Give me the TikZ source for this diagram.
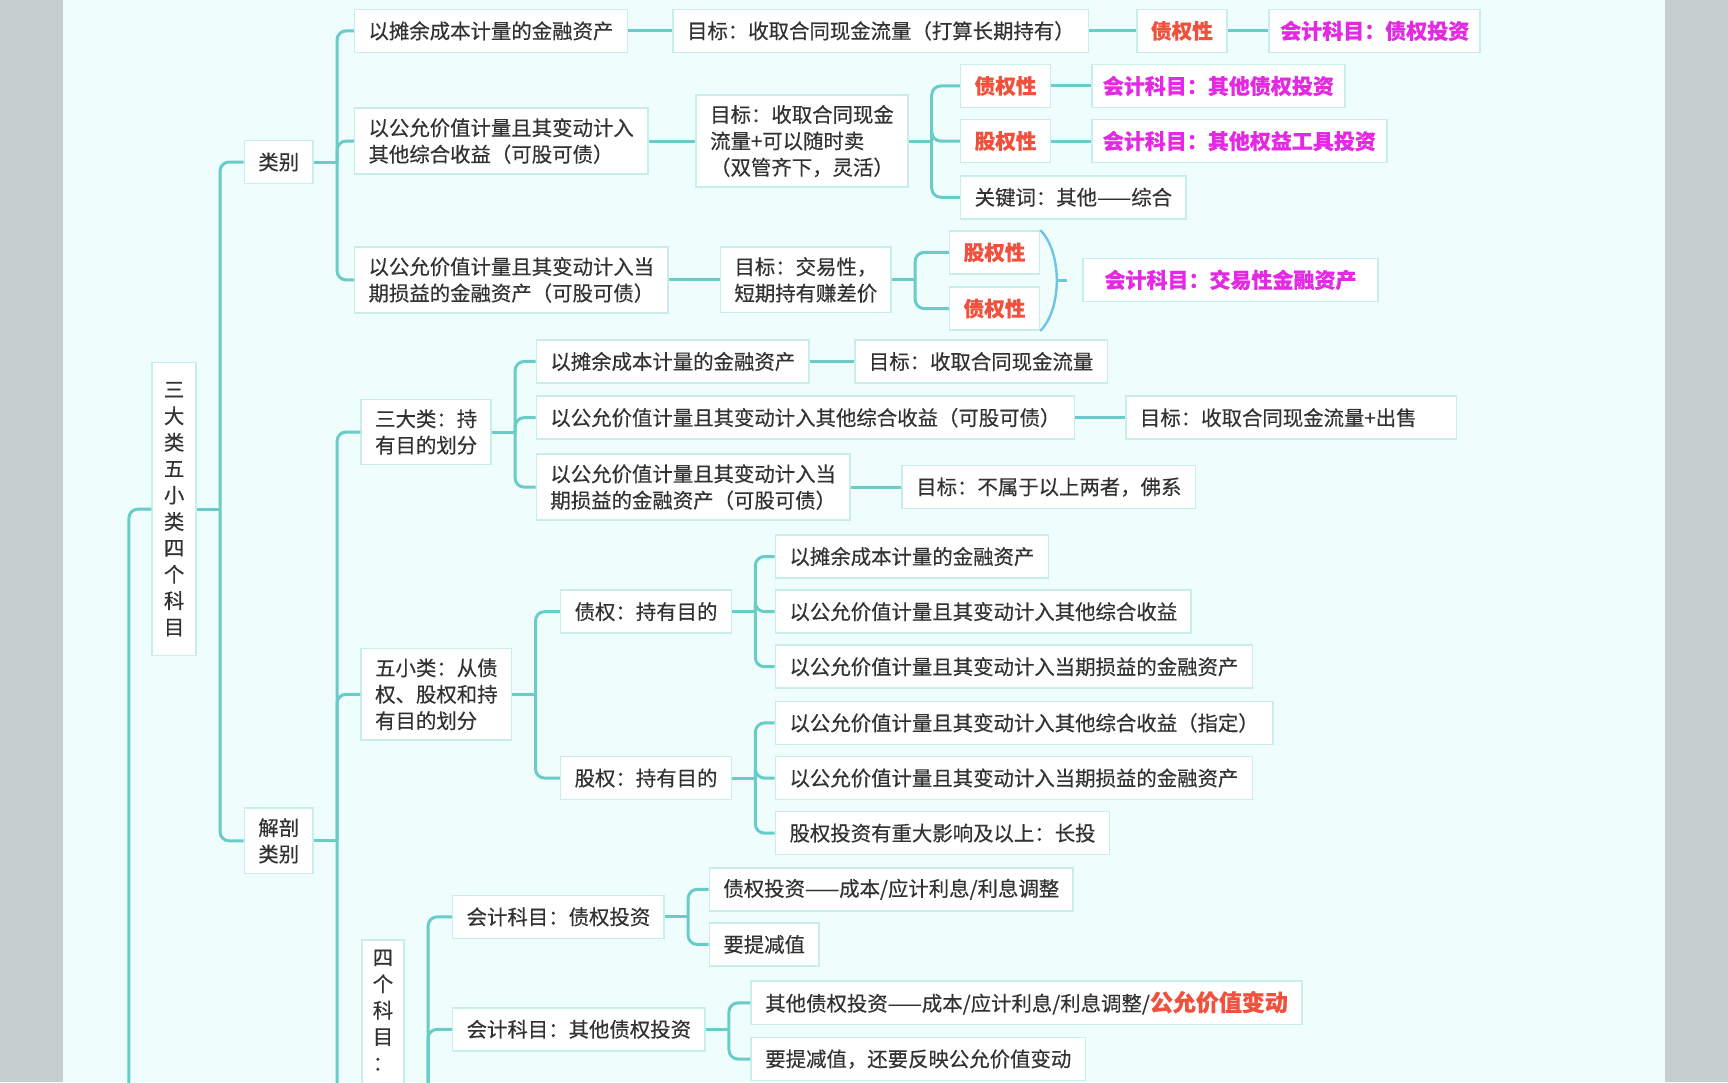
\documentclass[tikz,border=0pt]{standalone}
\usepackage{fontspec}
\setmainfont{Noto Sans CJK SC}[FakeBold=0.35]
\usepackage{xcolor}
\usepackage{tikz}

\definecolor{sidecol}{RGB}{197,207,207}
\definecolor{pagecol}{RGB}{240,253,253}
\definecolor{linkcol}{RGB}{104,204,200}
\definecolor{boxcol}{RGB}{200,238,236}
\definecolor{inkcol}{RGB}{50,50,50}
\definecolor{redcol}{RGB}{240,80,60}
\definecolor{pinkcol}{RGB}{228,40,228}
\definecolor{bracecol}{RGB}{110,196,228}

\begin{document}
\begin{tikzpicture}[x=1.102pt,y=-1.102pt,
	box/.style={draw=boxcol,line width=1.6pt,fill=white,text=inkcol,anchor=west,align=left,
		inner xsep=14pt,inner ysep=10pt,minimum height=43pt,font=\fontsize{20.4pt}{26.4pt}\selectfont},
	vbox/.style={box,align=center,inner xsep=11pt},
	redbox/.style={box,text=redcol,font=\fontsize{20.6pt}{26.4pt}\selectfont\bfseries},
	pinkbox/.style={box,text=pinkcol,inner xsep=11pt,font=\fontsize{21pt}{26.4pt}\selectfont\bfseries},
	link/.style={draw=linkcol,line width=3pt},
	fork/.style={link,rounded corners=9pt},
	brace/.style={draw=bracecol,line width=2.4pt}]
	% page
	\useasboundingbox (0,0) rectangle (1568,982);
	\fill[sidecol] (0,0) rectangle (1568,982);
	\fill[pagecol] (57,0) rectangle (1511,982);
	\clip (57,0) rectangle (1511,982);
	% root and first level
	\node[vbox,anchor=center,minimum width=44pt,minimum height=293pt] (root) at (158,462) {三\\大\\类\\五\\小\\类\\四\\个\\科\\目};
	\node[box] (lb) at (221,147) {类别};
	\node[box] (jp) at (221,763) {解剖\\类别};
	% 类别
	\node[box] (amc) at (321,28) {以摊余成本计量的金融资产};
	\node[box] (oci) at (321,128) {以公允价值计量且其变动计入\\其他综合收益（可股可债）};
	\node[box] (pl) at (321,254) {以公允价值计量且其变动计入当\\期损益的金融资产（可股可债）};
	\node[box] (amcGoal) at (610,28) {目标：收取合同现金流量（打算长期持有）};
	\node[redbox] (amcDebt) at (1031,28) {债权性};
	\node[pinkbox] (amcAcct) at (1151,28) {会计科目：债权投资};
	\node[box] (ociGoal) at (631,128) {目标：收取合同现金\\流量+可以随时卖\\（双管齐下，灵活）};
	\node[redbox] (ociDebt) at (871,78) {债权性};
	\node[redbox] (ociEq) at (871,128) {股权性};
	\node[box] (ociKey) at (871,179) {关键词：其他——综合};
	\node[pinkbox] (ociDebtAcct) at (990,78) {会计科目：其他债权投资};
	\node[pinkbox] (ociEqAcct) at (990,128) {会计科目：其他权益工具投资};
	\node[box] (plGoal) at (653,254) {目标：交易性，\\短期持有赚差价};
	\node[redbox] (plEq) at (861,229) {股权性};
	\node[redbox] (plDebt) at (861,280) {债权性};
	\node[pinkbox,minimum width=295pt,align=center] (plAcct) at (982,254) {会计科目：交易性金融资产};
	% 解剖类别
	\node[box] (three) at (327,392) {三大类：持\\有目的划分};
	\node[box] (five) at (327,630) {五小类：从债\\权、股权和持\\有目的划分};
	\node[vbox,anchor=north] (four) at (347.5,852) {四\\个\\科\\目\\：\\\strut\\\strut\\\strut\\\strut\\\strut\\\strut\\\strut};
	\node[box] (t1) at (486,328) {以摊余成本计量的金融资产};
	\node[box] (t2) at (486,379) {以公允价值计量且其变动计入其他综合收益（可股可债）};
	\node[box] (t3) at (486,442) {以公允价值计量且其变动计入当\\期损益的金融资产（可股可债）};
	\node[box] (t1g) at (775,328) {目标：收取合同现金流量};
	\node[box] (t2g) at (1021,379) {目标：收取合同现金流量+出售\hspace*{26pt}};
	\node[box] (t3g) at (818,442) {目标：不属于以上两者，佛系};
	\node[box] (debt) at (508,555) {债权：持有目的};
	\node[box] (eq) at (508,706) {股权：持有目的};
	\node[box] (d1) at (703,505) {以摊余成本计量的金融资产};
	\node[box] (d2) at (703,555) {以公允价值计量且其变动计入其他综合收益};
	\node[box] (d3) at (703,605) {以公允价值计量且其变动计入当期损益的金融资产};
	\node[box] (e1) at (703,656) {以公允价值计量且其变动计入其他综合收益（指定）};
	\node[box] (e2) at (703,706) {以公允价值计量且其变动计入当期损益的金融资产};
	\node[box] (e3) at (703,756) {股权投资有重大影响及以上：长投};
	\node[box] (k1) at (410,832) {会计科目：债权投资};
	\node[box] (k2) at (410,934) {会计科目：其他债权投资};
	\node[box] (k1a) at (643,807) {债权投资——成本/应计利息/利息调整};
	\node[box] (k1b) at (643,857) {要提减值};
	\node[box] (k2a) at (681,910) {其他债权投资——成本/应计利息/利息调整/{\fontsize{23pt}{26.4pt}\selectfont\bfseries\color{redcol}公允价值变动}};
	\node[box] (k2b) at (681,961) {要提减值，还要反映公允价值变动};
	% connectors
	\coordinate (up) at (117,1100);
	\draw[fork] (up) |- (root.west);
	\draw[link] (root.east) -- ++(21,0) coordinate (root-s);
	\foreach \c in {lb,jp} \draw[fork] (root-s) |- (\c.west);
	\draw[link] (lb.east) -- ++(21,0) coordinate (lb-s);
	\foreach \c in {amc,oci,pl} \draw[fork] (lb-s) |- (\c.west);
	\draw[link] (ociGoal.east) -- ++(21,0) coordinate (ociGoal-s);
	\foreach \c in {ociDebt,ociEq,ociKey} \draw[fork] (ociGoal-s) |- (\c.west);
	\draw[link] (plGoal.east) -- ++(21,0) coordinate (plGoal-s);
	\foreach \c in {plEq,plDebt} \draw[fork] (plGoal-s) |- (\c.west);
	\draw[link] (jp.east) -- ++(21,0) coordinate (jp-s);
	\foreach \c in {three,five,four} \draw[fork] (jp-s) |- (\c.west);
	\draw[link] (three.east) -- ++(21,0) coordinate (three-s);
	\foreach \c in {t1,t2,t3} \draw[fork] (three-s) |- (\c.west);
	\draw[link] (five.east) -- ++(21,0) coordinate (five-s);
	\foreach \c in {debt,eq} \draw[fork] (five-s) |- (\c.west);
	\draw[link] (debt.east) -- ++(21,0) coordinate (debt-s);
	\foreach \c in {d1,d2,d3} \draw[fork] (debt-s) |- (\c.west);
	\draw[link] (eq.east) -- ++(21,0) coordinate (eq-s);
	\foreach \c in {e1,e2,e3} \draw[fork] (eq-s) |- (\c.west);
	\draw[link] (four.east) -- ++(21,0) coordinate (four-s);
	\foreach \c in {k1,k2} \draw[fork] (four-s) |- (\c.west);
	\draw[link] (k1.east) -- ++(21,0) coordinate (k1-s);
	\foreach \c in {k1a,k1b} \draw[fork] (k1-s) |- (\c.west);
	\draw[link] (k2.east) -- ++(21,0) coordinate (k2-s);
	\foreach \c in {k2a,k2b} \draw[fork] (k2-s) |- (\c.west);
	\foreach \a/\b in {amc/amcGoal,amcGoal/amcDebt,amcDebt/amcAcct,oci/ociGoal,ociDebt/ociDebtAcct,ociEq/ociEqAcct,pl/plGoal,t1/t1g,t2/t2g,t3/t3g}
	\draw[link] (\a) -- (\b);
	% summary brace
	\draw[brace] (plEq.north east) .. controls +(20,20) and +(20,-20) .. (plDebt.south east) coordinate[pos=0.5] (plBrace);
	\draw[brace] (plBrace) -- ++(9,0);
\end{tikzpicture}
\end{document}
